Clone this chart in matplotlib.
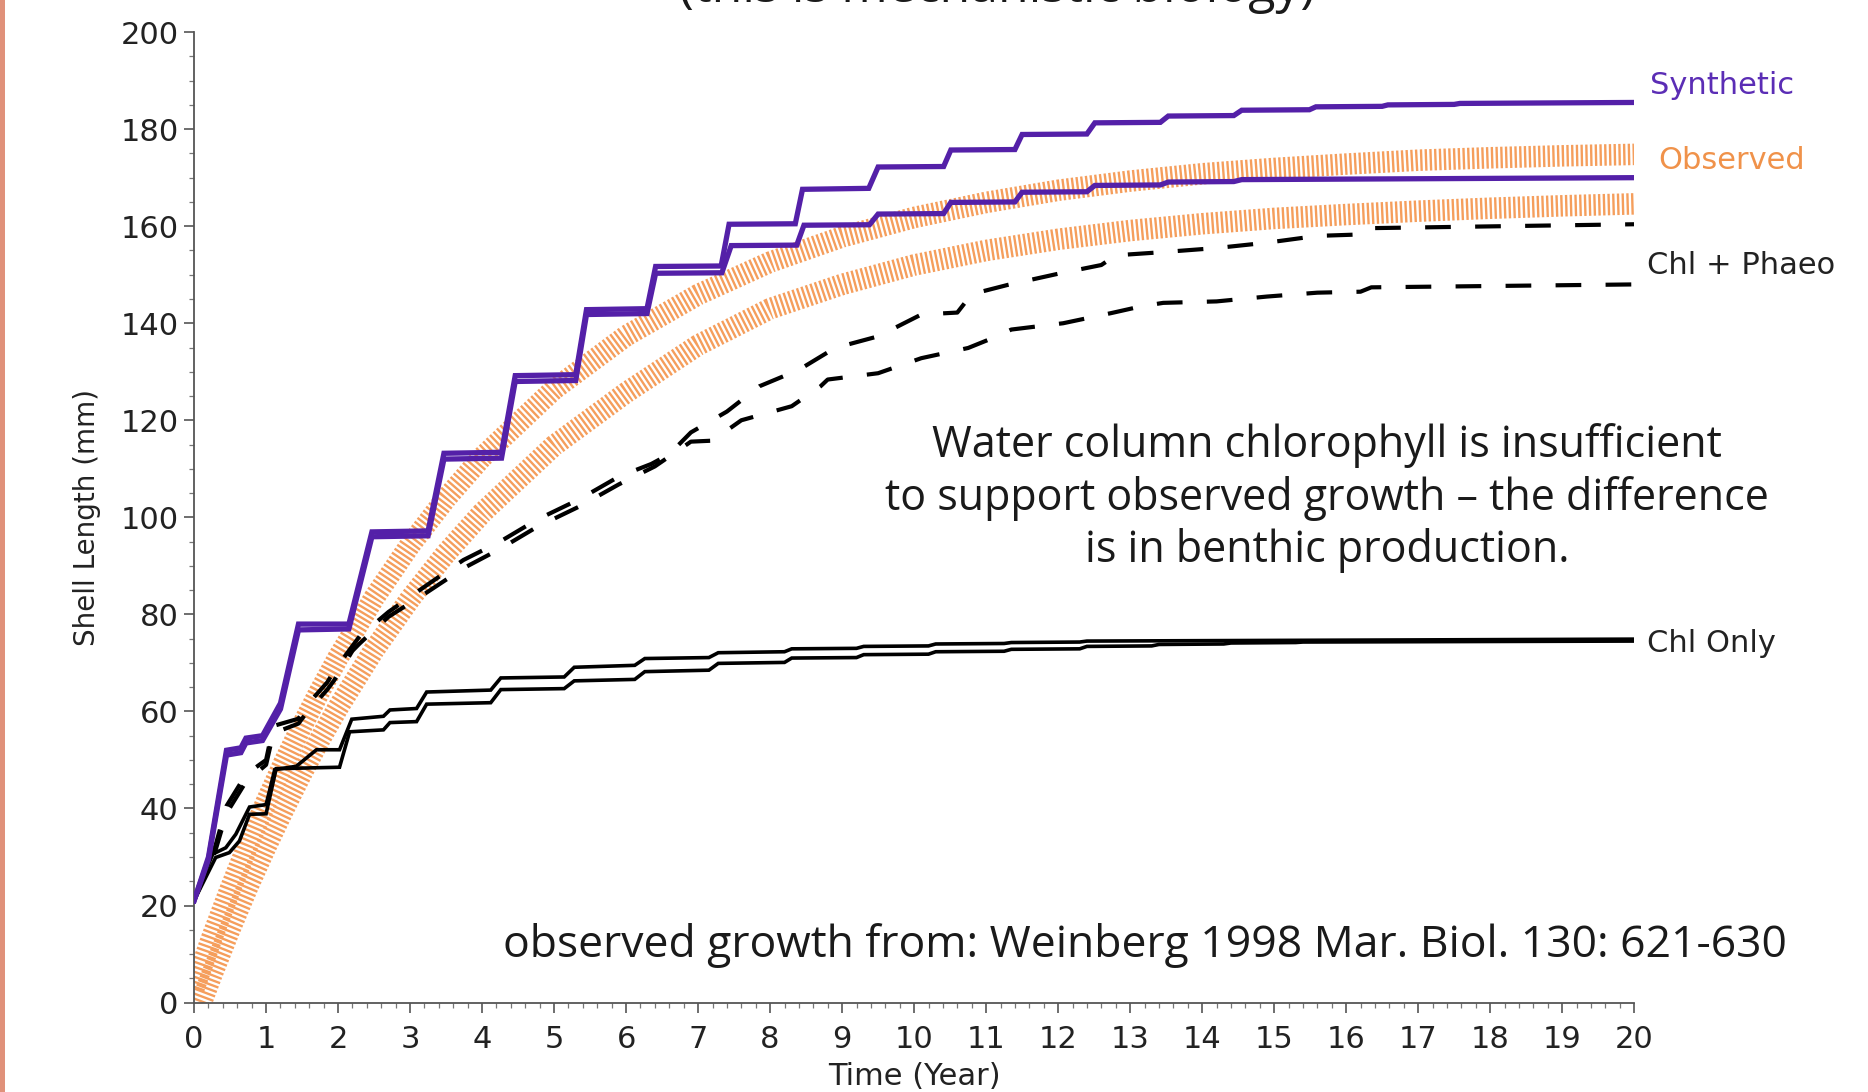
import matplotlib
matplotlib.use("Agg")
import matplotlib.pyplot as plt
from matplotlib.patches import Rectangle
from matplotlib.ticker import MultipleLocator

plt.rcParams['font.family'] = ['DejaVu Sans']
plt.rcParams['lines.scale_dashes'] = False

# Synthetic (two model runs)
syn_hi_t = [0, 0.2, 0.45, 0.65, 0.72, 0.95, 1.2, 1.45, 2.15, 2.47, 3.25, 3.47, 4.27, 4.46,
            5.3, 5.45, 6.29, 6.41, 7.32, 7.43, 8.35, 8.45, 9.37, 9.5, 10.41, 10.51, 11.4, 11.5,
            12.4, 12.51, 13.42, 13.53, 14.44, 14.55, 15.49, 15.58, 16.5, 16.58, 17.5, 17.58, 20]
syn_hi_y = [21, 30, 52, 52.5, 54.5, 55, 61.7, 78, 78, 97, 97.2, 113.2, 113.4, 129.2,
            129.4, 142.8, 143, 151.7, 151.8, 160.4, 160.5, 167.6, 167.8, 172.2, 172.3, 175.7, 175.8, 178.9,
            179, 181.3, 181.4, 182.7, 182.8, 183.9, 184, 184.6, 184.7, 185.0, 185.1, 185.3, 185.5]
syn_lo_t = [0, 0.2, 0.45, 0.65, 0.72, 0.95, 1.2, 1.45, 2.15, 2.47, 3.25, 3.47, 4.27, 4.46,
            5.3, 5.45, 6.29, 6.41, 7.33, 7.46, 8.37, 8.47, 9.38, 9.5, 10.41, 10.51, 11.4, 11.5,
            12.4, 12.51, 13.42, 13.53, 14.44, 14.55, 20]
syn_lo_y = [21, 29.5, 51, 51.5, 53.5, 54, 60.5, 76.8, 77, 96, 96.2, 112, 112.2, 128,
            128.2, 141.8, 142, 150.3, 150.4, 156, 156.1, 160.2, 160.3, 162.5, 162.6, 164.9, 165, 167,
            167.1, 168.4, 168.5, 169.1, 169.2, 169.6, 170]

# Observed (Weinberg 1998), two growth curves
obs_hi_t = [0, 0.25, 0.5, 0.75, 1, 1.25, 1.5, 1.75, 2, 2.5, 3, 3.5, 4, 5, 6, 7, 8, 9, 10,
            11, 12, 13, 14, 15, 16, 17, 18, 19, 20]
obs_hi_y = [3, 13.5, 23.3, 32.6, 41.3, 49.5, 57.1, 64.3, 71.1, 83.4, 94.3, 103.9, 112.4, 126.4,
            137.4, 145.9, 152.6, 157.8, 161.8, 164.9, 167.4, 169.3, 170.8, 171.9, 172.8, 173.6,
            174.1, 174.5, 174.8]
obs_lo_t = [0.1, 0.25, 0.5, 0.75, 1, 1.25, 1.5, 1.75, 2, 2.5, 3, 3.5, 4, 5, 6, 7, 8, 9, 10,
            11, 12, 13, 14, 15, 16, 17, 18, 19, 20]
obs_lo_y = [0, 5.9, 15.2, 24, 32.2, 40, 47.4, 54.3, 60.8, 72.7, 83.2, 92.6, 100.9, 114.8,
            125.7, 135.5, 143, 148, 152, 155, 157.3, 159.1, 160.5, 161.6, 162.4, 163.1, 163.7,
            164.2, 164.6]

# Chl + Phaeo (dashed)
cp_hi_t = [0, 0.3, 0.45, 0.72, 1.0, 1.1, 1.45, 1.55, 1.85, 1.95, 2.2, 2.3, 2.7, 3.23, 3.74,
           4.25, 4.76, 5.36, 5.9, 6.35, 6.6, 6.9, 7.4, 7.85, 8.4, 8.9, 9.5, 10.1, 10.6, 10.8,
           11.3, 12.0, 12.6, 12.8, 13.4, 14.2, 14.9, 15.6, 16.2, 16.35, 20]
cp_hi_y = [21, 32.5, 40.5, 47, 50, 57, 58.5, 61, 66, 68.5, 73.5, 75.5, 80.5, 86, 91.2,
           95, 99.5, 103.8, 108.4, 111, 113, 117.5, 121.8, 127, 130.4, 134.9, 137.3, 141.8, 142.2, 146,
           147.9, 150.2, 152, 154, 154.6, 155.5, 156.6, 158, 158.3, 159.6, 160.4]
cp_lo_t = [0, 0.3, 0.45, 0.72, 1.0, 1.1, 1.45, 1.55, 1.85, 1.95, 2.2, 2.3, 2.7, 3.23, 3.74,
           4.25, 4.76, 5.36, 5.9, 6.4, 6.9, 7.2, 7.6, 8.3, 8.7, 8.8, 9.5, 10.1, 10.75, 11.15,
           11.35, 12.07, 12.74, 13.16, 13.46, 14.2, 14.9, 15.6, 16.2, 16.35, 20]
cp_lo_y = [21, 31.5, 39, 45.5, 49, 55.5, 57.5, 59.5, 64.5, 66.5, 72.5, 74, 79.5, 84.5, 89.5,
           93.5, 98, 102.3, 106.8, 110.5, 115.6, 115.8, 120, 122.9, 127, 128.4, 129.7, 132.8, 134.9, 137.3,
           138.7, 140, 142.1, 143.5, 144.2, 144.5, 145.5, 146.3, 146.5, 147.4, 148]

# Chl only
co_hi_t = [0, 0.26, 0.44, 0.58, 0.77, 1.0, 1.12, 1.42, 1.7, 2.02, 2.19, 2.63, 2.72, 3.09, 3.23,
           4.12, 4.26, 5.14, 5.28, 6.12, 6.26, 7.15, 7.28, 8.2, 8.3, 9.2, 9.3, 10.2, 10.3, 11.25,
           11.35, 12.3, 12.4, 20]
co_hi_y = [21.4, 30.6, 31.9, 34.7, 40.3, 40.8, 48, 48.7, 52.1, 52.1, 58.4, 59, 60.3, 60.6, 64,
           64.4, 66.9, 67.1, 69.1, 69.5, 70.9, 71.1, 72.1, 72.3, 72.9, 73.0, 73.4, 73.5, 73.9, 74.0,
           74.2, 74.3, 74.5, 74.9]
co_lo_t = [0, 0.3, 0.49, 0.63, 0.77, 1.0, 1.14, 2.02, 2.16, 2.63, 2.72, 3.09, 3.23, 4.12, 4.26,
           5.14, 5.28, 6.12, 6.26, 7.15, 7.28, 8.2, 8.3, 9.2, 9.3, 10.2, 10.3, 11.25, 11.35, 12.3,
           12.4, 13.3, 13.4, 14.3, 14.4, 15.3, 15.4, 20]
co_lo_y = [21, 29.9, 30.9, 33.3, 38.8, 38.9, 48.2, 48.5, 55.8, 56.2, 57.7, 57.9, 61.5, 61.8, 64.5,
           64.7, 66.3, 66.6, 68.2, 68.5, 69.9, 70.1, 71.0, 71.1, 71.7, 71.8, 72.3, 72.4, 72.8, 72.9,
           73.4, 73.5, 73.8, 73.9, 74.1, 74.2, 74.3, 74.5]

purple = '#5420A8'
orange = '#F59E5C'

fig = plt.figure(figsize=(18.68, 10.92), dpi=100)
fig.patches.append(Rectangle((0, 0), 5 / 1868, 1, transform=fig.transFigure,
                             facecolor='#E0917A', edgecolor='none'))
ax = fig.add_axes([0.1039, 0.0819, 0.7709, 0.8887])

for t, y in [(obs_hi_t, obs_hi_y), (obs_lo_t, obs_lo_y)]:
    ax.plot(t, y, color=orange, lw=15.5, dashes=(1.7, 1.7), dash_capstyle='butt', zorder=1)
for t, y in [(co_hi_t, co_hi_y), (co_lo_t, co_lo_y)]:
    ax.plot(t, y, color='black', lw=2.6, solid_joinstyle='miter', zorder=2)
for t, y in [(cp_hi_t, cp_hi_y), (cp_lo_t, cp_lo_y)]:
    ax.plot(t, y, color='black', lw=3.0, dashes=(18.5, 17.5), dash_capstyle='butt', zorder=3)
for t, y in [(syn_hi_t, syn_hi_y), (syn_lo_t, syn_lo_y)]:
    ax.plot(t, y, color=purple, lw=3.8, solid_joinstyle='miter', zorder=4)

ax.set_xlim(0, 20)
ax.set_ylim(0, 200)
ax.xaxis.set_major_locator(MultipleLocator(1))
ax.xaxis.set_minor_locator(MultipleLocator(0.2))
ax.yaxis.set_major_locator(MultipleLocator(20))
ax.yaxis.set_minor_locator(MultipleLocator(5))
for s in ['top', 'right']:
    ax.spines[s].set_visible(False)
for s in ['left', 'bottom']:
    ax.spines[s].set_color('#555555')
    ax.spines[s].set_linewidth(1.3)
ax.tick_params(which='major', length=7, width=1.2, color='#555555', labelsize=22,
               labelcolor='#222222')
ax.tick_params(which='minor', length=3.5, width=0.9, color='#777777')
ax.tick_params(axis='y', pad=4)
ax.tick_params(axis='x', pad=9)

ax.set_xlabel('Time (Year)', fontsize=22, color='#222222', labelpad=6)
ax.set_ylabel('Shell Length (mm)', fontsize=20, color='#222222', labelpad=14)

ax.text(20.22, 189.0, 'Synthetic', color='#5B2DB5', fontsize=22, va='center', clip_on=False)
ax.text(20.33, 173.5, 'Observed', color='#F0924A', fontsize=22, va='center', clip_on=False)
ax.text(20.18, 152.0, 'Chl + Phaeo', color='#222222', fontsize=22, va='center', clip_on=False)
ax.text(20.18, 74.0, 'Chl Only', color='#222222', fontsize=22, va='center', clip_on=False)

fig.text(0.7104, 0.5438, 'Water column chlorophyll is insufficient\n'
         'to support observed growth \u2013 the difference\n'
         'is in benthic production.', family='Open Sans', fontsize=31,
         ha='center', va='center', linespacing=1.22, color='#1a1a1a')
fig.text(0.613, 0.1345, 'observed growth from: Weinberg 1998 Mar. Biol. 130: 621-630',
         family='Open Sans', fontsize=32, ha='center', va='center', color='#1a1a1a')
fig.text(0.534, 0.998, '(this is mechanistic biology)', family='Open Sans', fontsize=36,
         ha='center', va='baseline', color='#1a1a1a')

fig.savefig('out.png', dpi=100)
